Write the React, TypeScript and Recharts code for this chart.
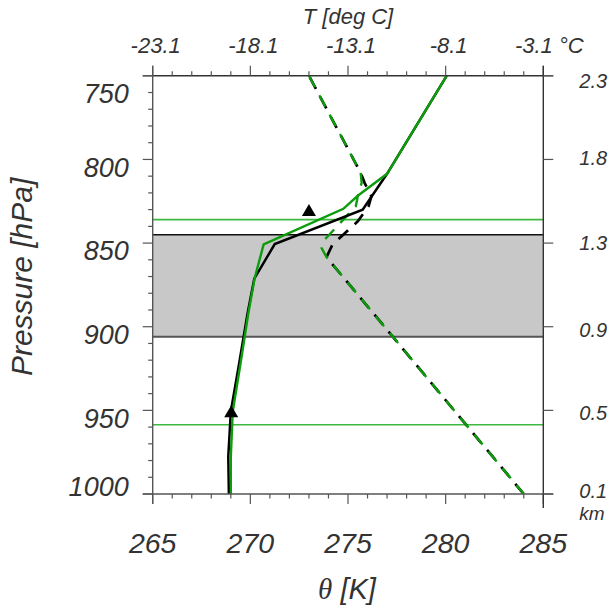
import React from 'react';
import {
  ComposedChart,
  Line,
  XAxis,
  YAxis,
  ReferenceArea,
  ReferenceLine,
  Scatter,
} from 'recharts';

// ---------- tick values & labels ----------
const thetaTicks = [265, 266, 267, 268, 269, 270, 271, 272, 273, 274, 275, 276, 277, 278, 279, 280, 281, 282, 283, 284, 285];
const thetaMajor = [265, 270, 275, 280, 285];
const thetaLabels = ['265', '270', '275', '280', '285'];
const tempLabels = ['-23.1', '-18.1', '-13.1', '-8.1', '-3.1 °C'];
const pressureTicks = [750, 760, 770, 780, 790, 800, 810, 820, 830, 840, 850, 860, 870, 880, 890, 900, 910, 920, 930, 940, 950, 960, 970, 980, 990, 1000];
const pressureMajor = [750, 800, 850, 900, 950, 1000];
const pressureLabels = ['750', '800', '850', '900', '950', '1000'];
const heightLabels = ['2.3', '1.8', '1.3', '0.9', '0.5', '0.1'];

// ---------- series ----------
const blackSolidP = [750, 808.6, 830, 850.6, 871.3, 891.8, 921.7, 950.6, 977.5, 1000];
const blackSolidT = [280.05, 277.0, 275.75, 271.25, 270.2, 269.86, 269.43, 269.0, 268.87, 268.9];

const greenSolidP = [750, 808.6, 821.7, 829.5, 850.8, 871.0, 891.8, 921.7, 950.6, 977.5, 1000];
const greenSolidT = [280.05, 277.0, 275.5, 274.76, 270.68, 270.22, 269.9, 269.5, 269.1, 269.0, 269.0];

const blackDashP = [750, 808, 814, 822, 828, 837, 845.6, 851, 858.4, 1000];
const blackDashT = [273.0, 275.65, 275.85, 276.2, 276.05, 275.5, 274.7, 274.2, 273.9, 284.0];

const greenDashP = [750, 808, 814, 822, 828, 836.7, 848, 853, 858.4, 1000];
const greenDashT = [273.0, 275.65, 275.7, 275.5, 275.4, 274.7, 273.8, 273.65, 273.9, 284.0];

const markerP = [830.2, 950.5];
const markerT = [273.0, 269.02];

const bandTop = 845;
const bandBottom = 906;
const greenLevels = [836, 958.6];

const toRows = (ps: number[], ts: number[]) => ps.map((p, i) => ({ p, t: ts[i] }));
const blackSolid = toRows(blackSolidP, blackSolidT);
const greenSolid = toRows(greenSolidP, greenSolidT);
const blackDash = toRows(blackDashP, blackDashT);
const greenDash = toRows(greenDashP, greenDashT);
const markers = toRows(markerP, markerT);

// ---------- styles ----------
const FONT = '"Liberation Sans", Arial, Helvetica, sans-serif';
const TEXT = '#333333';
const AXIS = '#555555';
const GREEN = '#0c9c0c';
const GREEN_LIGHT = '#3fb83f';

const W = 615;
const H = 611;

const BottomTick = (props: any) => {
  const { x, y, payload } = props;
  const v = payload.value as number;
  const mi = thetaMajor.indexOf(v);
  const major = mi >= 0;
  return (
    <g>
      <line x1={x} x2={x} y1={y} y2={y + (major ? 10 : 4.5)} stroke={AXIS} strokeWidth={1.2} />
      {v === thetaTicks[0] && <line x1={x - 10} x2={x} y1={y} y2={y} stroke={AXIS} strokeWidth={1.4} />}
      {v === thetaTicks[thetaTicks.length - 1] && <line x1={x} x2={x + 10} y1={y} y2={y} stroke={AXIS} strokeWidth={1.4} />}
      {major && (
        <text x={x} y={y + 59} textAnchor="middle" fontFamily={FONT} fontStyle="italic" fontSize={28.5} fill={TEXT}>
          {thetaLabels[mi]}
        </text>
      )}
    </g>
  );
};

const TopTick = (props: any) => {
  const { x, y, payload } = props;
  const v = payload.value as number;
  const mi = thetaMajor.indexOf(v);
  const major = mi >= 0;
  const last = mi === thetaMajor.length - 1;
  return (
    <g>
      <line x1={x} x2={x} y1={y} y2={y - (major ? 10 : 4.5)} stroke={AXIS} strokeWidth={1.2} />
      {v === thetaTicks[0] && <line x1={x - 10} x2={x} y1={y} y2={y} stroke={AXIS} strokeWidth={1.4} />}
      {v === thetaTicks[thetaTicks.length - 1] && <line x1={x} x2={x + 10} y1={y} y2={y} stroke={AXIS} strokeWidth={1.4} />}
      {major && (
        <text x={x + (last ? 6 : 3)} y={y - 23} textAnchor="middle" fontFamily={FONT} fontStyle="italic" fontSize={22} fill={TEXT}>
          {tempLabels[mi]}
        </text>
      )}
    </g>
  );
};

const leftShift = (v: number) => (v === 750 ? 17 : v === 1000 ? -7.3 : 7.6);

const LeftTick = (props: any) => {
  const { x, y, payload } = props;
  const v = payload.value as number;
  const mi = pressureMajor.indexOf(v);
  const major = mi >= 0;
  return (
    <g>
      <line x1={x} x2={x - (major ? 10 : 4.5)} y1={y} y2={y} stroke={AXIS} strokeWidth={1.2} />
      {v === pressureTicks[0] && <line x1={x} x2={x} y1={y - 10} y2={y} stroke={AXIS} strokeWidth={1.4} />}
      {v === pressureTicks[pressureTicks.length - 1] && <line x1={x} x2={x} y1={y} y2={y + 10} stroke={AXIS} strokeWidth={1.4} />}
      {major && (
        <text x={x - 24} y={y + leftShift(v) + 9.7} textAnchor="end" fontFamily={FONT} fontStyle="italic" fontSize={27} fill={TEXT}>
          {pressureLabels[mi]}
        </text>
      )}
    </g>
  );
};

const rightShift = (v: number) => (v === 750 ? 5 : v === 800 ? -1 : v === 850 ? 0 : v === 900 ? 3 : v === 950 ? 2.5 : -3);

const RightTick = (props: any) => {
  const { x, y, payload } = props;
  const v = payload.value as number;
  const mi = pressureMajor.indexOf(v);
  return (
    <g>
      <line x1={x} x2={x + 10} y1={y} y2={y} stroke={AXIS} strokeWidth={1.2} />
      {v === pressureMajor[0] && <line x1={x} x2={x} y1={y - 10} y2={y} stroke="#333" strokeWidth={1.4} />}
      {v === pressureMajor[pressureMajor.length - 1] && <line x1={x} x2={x} y1={y} y2={y + 14} stroke="#333" strokeWidth={1.4} />}
      <text x={x + 36} y={y + rightShift(v) + 7} textAnchor="start" fontFamily={FONT} fontStyle="italic" fontSize={20} fill={TEXT}>
        {heightLabels[mi]}
      </text>
      {v === pressureMajor[pressureMajor.length - 1] && (
        <text x={x + 36} y={y + 26} textAnchor="start" fontFamily={FONT} fontStyle="italic" fontSize={19} fill={TEXT}>
          km
        </text>
      )}
    </g>
  );
};

const PressureLabel = (props: any) => {
  const vb = props.viewBox || { x: 52.7, y: 75.8, width: 100, height: 418 };
  const cx = vb.x - 21;
  const cy = vb.y + vb.height / 2 - 8;
  return (
    <text x={cx} y={cy} transform={`rotate(-90, ${cx}, ${cy})`} textAnchor="middle" fontFamily={FONT} fontStyle="italic" fontSize={30} fill={TEXT}>
      Pressure [hPa]
    </text>
  );
};

const ThetaLabel = (props: any) => {
  const vb = props.viewBox || { x: 152.7, y: 494, width: 390.6, height: 80 };
  return (
    <text x={vb.x + vb.width / 2 - 1} y={vb.y + 105} textAnchor="middle" fontSize={29} fill={TEXT}>
      <tspan fontFamily='"Liberation Serif", "DejaVu Serif", serif' fontStyle="italic">θ</tspan>
      <tspan fontFamily={FONT} fontStyle="italic"> [K]</tspan>
    </text>
  );
};

const TempLabel = (props: any) => {
  const vb = props.viewBox || { x: 152.7, y: 25.8, width: 390.6, height: 50 };
  return (
    <text x={vb.x + vb.width / 2} y={vb.y - 1.8} textAnchor="middle" fontFamily={FONT} fontStyle="italic" fontSize={22} fill={TEXT}>
      T [deg C]
    </text>
  );
};

const Triangle = (props: any) => {
  const { cx, cy } = props;
  return <polygon points={`${cx},${cy - 6} ${cx - 7},${cy + 6} ${cx + 7},${cy + 6}`} fill="#000" />;
};

export default function App() {
  return (
    <div style={{ position: 'absolute', left: 0, top: 0, width: W, height: H, background: '#fff' }}>
      <ComposedChart width={W} height={H} margin={{ top: 25.8, right: 11.7, left: 52.7, bottom: 37 }}>
        <XAxis
          xAxisId="bottom"
          dataKey="t"
          type="number"
          domain={[265, 285]}
          allowDataOverflow
          ticks={thetaTicks}
          interval={0}
          orientation="bottom"
          height={80}
          tickSize={0}
          tickMargin={0}
          tickLine={false}
          axisLine={{ stroke: AXIS, strokeWidth: 1.4 }}
          tick={BottomTick}
          label={ThetaLabel}
        />
        <XAxis
          xAxisId="top"
          dataKey="t"
          type="number"
          domain={[265, 285]}
          allowDataOverflow
          ticks={thetaTicks}
          interval={0}
          orientation="top"
          height={50}
          tickSize={0}
          tickMargin={0}
          tickLine={false}
          axisLine={{ stroke: '#333', strokeWidth: 1.4 }}
          tick={TopTick}
          label={TempLabel}
        />
        <YAxis
          yAxisId="left"
          dataKey="p"
          type="number"
          domain={[750, 1000]}
          reversed
          allowDataOverflow
          ticks={pressureTicks}
          interval={0}
          orientation="left"
          width={100}
          tickSize={0}
          tickMargin={0}
          tickLine={false}
          axisLine={{ stroke: AXIS, strokeWidth: 1.4 }}
          tick={LeftTick}
          label={PressureLabel}
        />
        <YAxis
          yAxisId="right"
          dataKey="p"
          type="number"
          domain={[750, 1000]}
          reversed
          allowDataOverflow
          ticks={pressureMajor}
          interval={0}
          orientation="right"
          width={60}
          tickSize={0}
          tickMargin={0}
          tickLine={false}
          axisLine={{ stroke: '#333', strokeWidth: 1.4 }}
          tick={RightTick}
        />

        <ReferenceArea
          xAxisId="bottom"
          yAxisId="left"
          y1={bandTop}
          y2={bandBottom}
          fill="#c8c8c8"
          fillOpacity={1}
          stroke="none"
          ifOverflow="hidden"
        />
        <ReferenceLine xAxisId="bottom" yAxisId="left" y={bandTop} stroke="#111" strokeWidth={1.5} />
        <ReferenceLine xAxisId="bottom" yAxisId="left" y={bandBottom} stroke="#555" strokeWidth={2} />
        {greenLevels.map((g) => (
          <ReferenceLine key={g} xAxisId="bottom" yAxisId="left" y={g} stroke={GREEN_LIGHT} strokeWidth={1.6} />
        ))}

        <Line
          xAxisId="bottom"
          yAxisId="left"
          data={blackDash}
          dataKey="p"
          type="linear"
          stroke="#000"
          strokeWidth={2.7}
          strokeDasharray="13 9"
          strokeDashoffset={20.1}
          dot={false}
          activeDot={false}
          isAnimationActive={false}
        />
        <Line
          xAxisId="bottom"
          yAxisId="left"
          data={greenDash}
          dataKey="p"
          type="linear"
          stroke={GREEN}
          strokeWidth={2.4}
          strokeDasharray="13 9"
          dot={false}
          activeDot={false}
          isAnimationActive={false}
        />
        <Line
          xAxisId="bottom"
          yAxisId="left"
          data={blackSolid}
          dataKey="p"
          type="linear"
          stroke="#000"
          strokeWidth={2.5}
          dot={false}
          activeDot={false}
          isAnimationActive={false}
        />
        <Line
          xAxisId="bottom"
          yAxisId="left"
          data={greenSolid}
          dataKey="p"
          type="linear"
          stroke={GREEN}
          strokeWidth={2.4}
          dot={false}
          activeDot={false}
          isAnimationActive={false}
        />
        <Scatter
          xAxisId="bottom"
          yAxisId="left"
          data={markers}
          dataKey="p"
          shape={Triangle}
          isAnimationActive={false}
        />
      </ComposedChart>
    </div>
  );
}
